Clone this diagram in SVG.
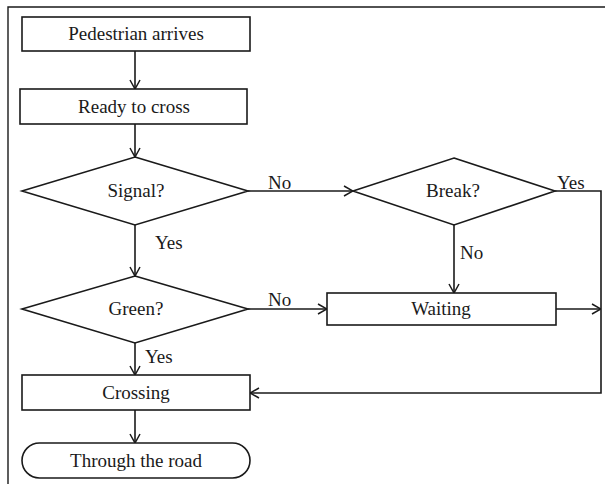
<svg xmlns="http://www.w3.org/2000/svg" width="605" height="484" viewBox="0 0 605 484">
<style>
.s{fill:#fff;stroke:#1a1a1a;stroke-width:1.6}
.c{fill:none;stroke:#1a1a1a;stroke-width:1.6}
.t{font-family:"Liberation Serif",serif;font-size:19px;fill:#1a1a1a;text-anchor:middle}
.l{font-family:"Liberation Serif",serif;font-size:19px;fill:#1a1a1a}
</style>
<defs>
<marker id="a" viewBox="0 0 10 12" refX="10" refY="6" markerWidth="10" markerHeight="12" markerUnits="userSpaceOnUse" orient="auto">
<path d="M1,1 L10,6 L1,11" fill="none" stroke="#1a1a1a" stroke-width="1.5"/>
</marker>
</defs>
<rect width="605" height="484" fill="#fff"/>
<path d="M8,484 V7 H605" fill="none" stroke="#1a1a1a" stroke-width="1.4"/>
<g id="connectors">
<path class="c" d="M135,51 V89" marker-end="url(#a)"/>
<path class="c" d="M135,124 V157" marker-end="url(#a)"/>
<path class="c" d="M135,225 V276" marker-end="url(#a)"/>
<path class="c" d="M248,191 H353" marker-end="url(#a)"/>
<path class="c" d="M454,225 V293" marker-end="url(#a)"/>
<path class="c" d="M248,309 H327" marker-end="url(#a)"/>
<path class="c" d="M556,309 H601" marker-end="url(#a)"/>
<path class="c" d="M555,191 H601 V393 H250" marker-end="url(#a)"/>
<path class="c" d="M135,343 V375" marker-end="url(#a)"/>
<path class="c" d="M135,410 V443" marker-end="url(#a)"/>
<text class="l" x="268" y="189">No</text>
<text class="l" x="155" y="249">Yes</text>
<text class="l" x="268" y="306">No</text>
<text class="l" x="460" y="259">No</text>
<text class="l" x="557" y="189">Yes</text>
<text class="l" x="145" y="363">Yes</text>
</g>
<g id="pedestrian-arrives"><rect class="s" x="22" y="17" width="228" height="34"/><text class="t" x="136" y="40">Pedestrian arrives</text></g>
<g id="ready-to-cross"><rect class="s" x="20" y="89" width="227" height="35"/><text class="t" x="134" y="113">Ready to cross</text></g>
<g id="signal"><path class="s" d="M135,157 L248,191 L135,225 L22,191 Z"/><text class="t" x="136" y="197">Signal?</text></g>
<g id="break"><path class="s" d="M454,158 L555,191 L454,225 L353,191 Z"/><text class="t" x="453" y="197">Break?</text></g>
<g id="green"><path class="s" d="M135,276 L248,309 L135,343 L22,309 Z"/><text class="t" x="136" y="315">Green?</text></g>
<g id="waiting"><rect class="s" x="327" y="293" width="229" height="32"/><text class="t" x="441" y="315">Waiting</text></g>
<g id="crossing"><rect class="s" x="22" y="375" width="228" height="35"/><text class="t" x="136" y="399">Crossing</text></g>
<g id="through-the-road"><rect class="s" x="22" y="443" width="228" height="35" rx="17.5" ry="17.5"/><text class="t" x="136" y="467">Through the road</text></g>
</svg>
